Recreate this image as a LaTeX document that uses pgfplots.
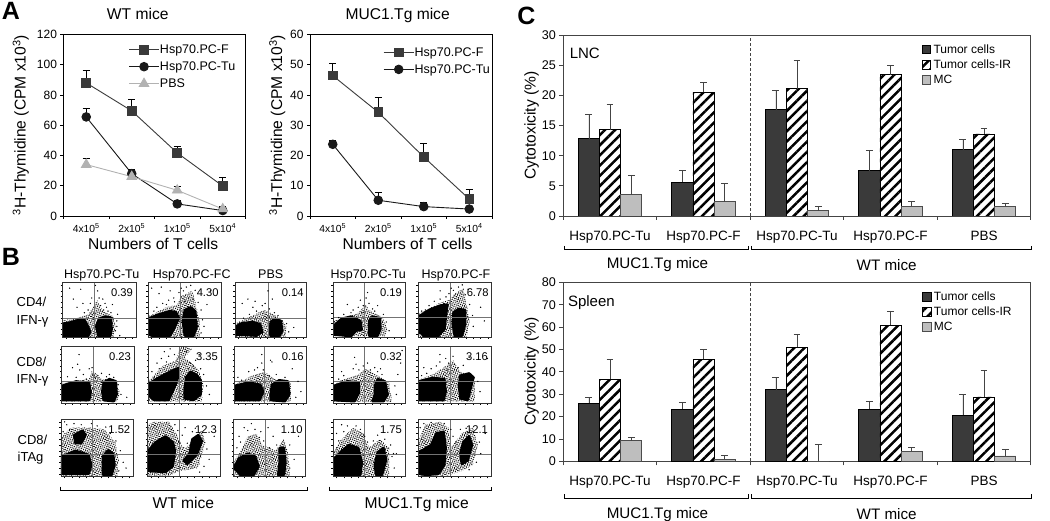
\documentclass[border=0pt]{standalone}
\usepackage{fontspec}
\setmainfont{Liberation Sans}
\usepackage{pgfplots}
\pgfplotsset{compat=1.18}
\usetikzlibrary{patterns.meta}

\newcommand{\fs}[1]{\fontsize{#1}{#1}\selectfont}
\definecolor{darkbar}{HTML}{3A3A3A}
\definecolor{greybar}{HTML}{BEBEBE}
\definecolor{framecol}{HTML}{444444}

% panel A
\pgfplotsset{
 lineaxis/.style={
  scale only axis,width=182pt,height=181.5pt,
  xmin=-.5,xmax=3.5,ymin=0,
  axis line style={black,line width=.8pt},
  tick align=outside,tick style={black,line width=.7pt},major tick length=3pt,
  xtick pos=bottom,ytick pos=left,
  xtick={-.5,.5,1.5,2.5,3.5},xticklabels={},
  extra x ticks={0,1,2,3},
  extra x tick labels={4x10\textsuperscript{5},2x10\textsuperscript{5},1x10\textsuperscript{5},5x10\textsuperscript{4}},
  extra x tick style={major tick length=0pt,xticklabel style={font=\fs{10.3},yshift=-4pt}},
  yticklabel style={font=\fs{12}},
  /pgf/number format/assume math mode=true,
  ylabel={\textsuperscript{3}H-Thymidine (CPM x10\textsuperscript{3})},
  xlabel={Numbers of T cells},
  legend style={draw=none,fill=none,font=\fs{12.5},anchor=north west,row sep=3.8pt,
   nodes={inner ysep=1.5pt,inner xsep=.5pt}},
  legend cell align=left,
  legend image code/.code={\draw[mark repeat=2,mark phase=2,##1] plot coordinates {(0pt,0pt)(15pt,0pt)(30pt,0pt)};},
  error bars/y dir=plus,error bars/y explicit,
  error bars/error bar style={black,line width=.8pt},
  error bars/error mark options={rotate=90,black,mark size=3.6pt,line width=.8pt},
 },
 fline/.style={color=darkbar,line width=.9pt,mark=square*,mark size=4.3pt,mark options={fill=darkbar,draw=darkbar}},
 tline/.style={color=black!90,line width=.9pt,mark=*,mark size=4.3pt,mark options={fill=black!90,draw=black!90}},
 pline/.style={color=black!30,line width=.9pt,mark=triangle*,mark size=5.5pt,mark options={fill=black!30,draw=black!30}},
% panel C
 baraxis/.style={
  scale only axis,width=467.5pt,
  ybar=0pt,bar width=21.2pt,
  xmin=-.5,xmax=4.5,ymin=0,
  axis line style={framecol,line width=.8pt},
  tick align=outside,tick style={framecol,line width=.7pt},major tick length=4pt,
  xtick pos=bottom,ytick pos=left,
  xtick={-.5,.5,1.5,2.5,3.5,4.5},xticklabels={},
  extra x ticks={0,1,2,3,4},
  extra x tick labels={Hsp70.PC-Tu,Hsp70.PC-F,Hsp70.PC-Tu,Hsp70.PC-F,PBS},
  extra x tick style={major tick length=0pt,xticklabel style={font=\fs{13.5},yshift=-11.5pt}},
  yticklabel style={font=\fs{12.6}},
  /pgf/number format/assume math mode=true,
  ylabel={Cytotoxicity (\%)},
  every axis y label/.style={at={(axis description cs:-.068,.5)},rotate=90,anchor=center,font=\fs{15.6}},
  legend style={draw=none,fill=none,font=\fs{12},anchor=north west,row sep=2.6pt,
   nodes={inner ysep=1.2pt,inner xsep=2.4pt}},
  legend cell align=left,
  legend image code/.code={\draw[##1,line width=.8pt] (0pt,-4pt) rectangle (8.5pt,4.5pt);},
  error bars/y dir=plus,error bars/y explicit,
  error bars/error bar style={framecol,line width=.7pt},
  error bars/error mark options={rotate=90,framecol,mark size=3.4pt,line width=.7pt},
 },
 tbar/.style={fill=darkbar,draw=black,line width=.7pt},
 ibar/.style={pattern={Lines[angle=45,distance=7.2pt,line width=2.5pt]},pattern color=black,draw=black,line width=.7pt},
 mbar/.style={fill=greybar,draw=black!70,line width=.8pt},
}

% panel B: one dot plot, local coordinates 0..100
\newcommand{\halo}[1]{%
 \addplot[draw=none,pattern={Dots[angle=17,distance=1.9pt,radius=.55pt]},pattern color=black] coordinates {#1} --cycle;
 \addplot[draw=none,pattern={Dots[angle=61,distance=2.4pt,radius=.55pt]},pattern color=black] coordinates {#1} --cycle;}
\newcommand{\blob}[1]{\addplot[draw=black,line width=2.4pt,line join=round,fill=black] coordinates {#1} --cycle;}
\newcommand{\specks}[1]{\addplot[only marks,mark=*,mark size=.42pt,black] coordinates {#1};}
\newcommand{\flowpanel}[8]{%
 \begin{axis}[at={(#1pt,-#2pt)},anchor=north west,scale only axis,width=#3pt,height=#4pt,
  xmin=0,xmax=100,ymin=0,ymax=100,axis on top,
  axis line style={black!80,line width=.6pt},
  tick align=outside,major tick length=1.6pt,tick style={black,line width=.4pt},
  xtick={5,15,...,95},ytick={5,15,...,95},xticklabels={},yticklabels={},
  xtick pos=bottom,ytick pos=left]
  #8
  \draw[black!55,line width=.9pt] (axis cs:#5,0)--(axis cs:#5,100);
  \draw[black!55,line width=.9pt] (axis cs:0,#6)--(axis cs:100,#6);
  \node[anchor=east,font=\fs{11.2},inner sep=0pt] at (axis cs:96,81) {#7};
 \end{axis}}

\begin{document}
\begin{tikzpicture}[x=1pt,y=-1pt]
\useasboundingbox (0,0) rectangle (1050,521);

%------ A
\node[font=\fs{25}\bfseries] at (11,11) {A};
\node[font=\fs{25}\bfseries] at (11,257) {B};
\node[font=\fs{25}\bfseries] at (526.5,16) {C};

\begin{axis}[lineaxis,at={(63.5pt,-34.5pt)},anchor=north west,ymax=120,ytick={0,20,...,120},
 title={WT mice},title style={at={(axis description cs:.408,1.047)},anchor=base,font=\fs{15.6}},
 every axis y label/.style={at={(axis description cs:-.235,.5)},rotate=90,anchor=center,font=\fs{15.6}},
 every axis x label/.style={at={(axis description cs:.493,-.187)},anchor=base,font=\fs{15.6}},
 legend style={at={(axis description cs:.34,.965)}}]
\addplot+[fline] coordinates {(0,88) +- (0,8.5) (1,69.5) +- (0,7.8) (2,41.7) +- (0,4.3) (3,19.8) +- (0,5.5)};
\addplot+[tline] coordinates {(0,65.5) +- (0,5.9) (1,28) +- (0,3) (2,8) +- (0,2.5) (3,3.6) +- (0,2.4)};
\addplot+[pline] coordinates {(0,34) +- (0,3.9) (1,26) +- (0,5) (2,17) +- (0,2.4) (3,4.6) +- (0,2)};
\legend{Hsp70.PC-F,Hsp70.PC-Tu,PBS}
\end{axis}

\begin{axis}[lineaxis,at={(310pt,-34.5pt)},anchor=north west,ymax=60,ytick={0,10,...,60},
 title={MUC1.Tg mice},title style={at={(axis description cs:.482,1.047)},anchor=base,font=\fs{15.6}},
 every axis y label/.style={at={(axis description cs:-.18,.5)},rotate=90,anchor=center,font=\fs{15.6}},
 every axis x label/.style={at={(axis description cs:.536,-.187)},anchor=base,font=\fs{15.6}},
 legend style={at={(axis description cs:.385,.95)}}]
\addplot+[fline] coordinates {(0,46.4) +- (0,4) (1,34.3) +- (0,4.8) (2,19.5) +- (0,4.5) (3,5.6) +- (0,3.3)};
\addplot+[tline] coordinates {(0,23.7) +- (0,1.4) (1,5.2) +- (0,2.5) (2,3.1) +- (0,1.3) (3,2.3) +- (0,.6)};
\legend{Hsp70.PC-F,Hsp70.PC-Tu}
\end{axis}

%------ B
\foreach \xx/\txt in {101.7/Hsp70.PC-Tu,191.7/Hsp70.PC-FC,270.7/PBS,368.3/Hsp70.PC-Tu,456/Hsp70.PC-F}
 \node[font=\fs{12.5},anchor=base] at (\xx,279) {\txt};
\node[font=\fs{13},anchor=west,inner sep=0pt] at (16.5,302.3) {CD4/};
\node[font=\fs{13},anchor=west,inner sep=0pt] at (16.5,321) {IFN-γ};
\node[font=\fs{13},anchor=west,inner sep=0pt] at (16.5,361.7) {CD8/};
\node[font=\fs{13},anchor=west,inner sep=0pt] at (16.5,380) {IFN-γ};
\node[font=\fs{13},anchor=west,inner sep=0pt] at (17.5,440) {CD8/};
\node[font=\fs{13},anchor=west,inner sep=0pt] at (17.5,458.3) {iTAg};

% row 1
\flowpanel{62.3}{282.7}{73.7}{54.6}{44}{35}{0.39}{
 \halo{(0,0)(70,0)(72,20)(70,38)(55,48)(47,68)(42,55)(35,42)(20,36)(0,30)}
 \blob{(1,2)(35,2)(38,10)(34,22)(30,32)(20,31)(10,27)(1,25)}
 \blob{(49,2)(65,2)(67,15)(66,36)(58,38)(50,34)(46,20)}
 \specks{(20,55)(28,62)(15,70)(50,72)(55,70)(58,62)(60,55)(62,48)(68,60)(35,50)(40,72)(48,85)(45,95)(25,88)(10,90)(75,42)(74,30)(72,12)(74,20)(78,3)(30,45)(38,62)(52,58)(56,50)(66,45)}
}
\flowpanel{148}{282.7}{73.7}{54.6}{44}{35}{4.30}{
 \halo{(0,0)(70,0)(70,30)(65,60)(60,85)(45,75)(40,60)(25,55)(0,38)}
 \blob{(2,5)(10,0)(30,3)(36,18)(42,35)(38,46)(30,48)(15,42)(2,35)}
 \blob{(50,3)(62,3)(66,20)(64,48)(58,55)(50,50)(47,30)}
 \specks{(8,48)(12,55)(20,62)(28,68)(35,72)(15,80)(30,85)(42,82)(48,85)(52,92)(58,95)(55,72)(62,70)(68,64)(72,50)(74,32)(76,20)(72,8)(25,60)(36,65)(50,66)(45,90)(64,86)(80,60)(85,85)(5,90)(18,92)}
}
\flowpanel{235}{282.7}{71.7}{54.6}{46}{34}{0.14}{
 \halo{(0,0)(70,0)(72,20)(62,36)(50,45)(40,50)(25,40)(0,25)}
 \blob{(1,5)(30,3)(38,10)(35,24)(25,28)(10,26)(1,20)}
 \blob{(50,2)(62,3)(66,12)(64,30)(55,34)(50,28)(48,12)}
 \specks{(10,62)(18,70)(25,55)(30,48)(38,58)(42,62)(48,52)(52,70)(55,45)(60,40)(66,30)(72,25)(75,10)(12,35)(20,42)(46,85)(28,66)(82,18)}
}
\flowpanel{333}{282.7}{72}{54.6}{44}{37}{0.19}{
 \halo{(0,2)(72,2)(76,15)(68,38)(50,50)(46,60)(35,45)(0,30)}
 \blob{(2,5)(25,2)(32,12)(40,14)(38,30)(25,38)(12,34)(2,22)}
 \blob{(50,3)(62,3)(66,15)(65,35)(55,38)(50,30)(50,15)}
 \specks{(20,60)(28,50)(35,55)(38,68)(42,58)(46,72)(40,45)(50,62)(55,52)(58,48)(48,82)(62,58)(70,42)(74,28)(78,12)(15,42)(25,45)(8,36)}
}
\flowpanel{418}{282.7}{73.7}{54.6}{44}{37}{6.78}{
 \halo{(0,0)(66,0)(70,30)(66,60)(62,90)(50,80)(42,68)(28,62)(0,42)}
 \blob{(1,12)(8,2)(28,3)(36,15)(38,40)(40,60)(30,58)(15,50)(1,38)}
 \blob{(50,2)(60,3)(64,25)(64,50)(55,52)(48,45)(47,25)}
 \specks{(10,50)(15,58)(22,66)(30,70)(38,74)(42,80)(48,86)(55,92)(60,96)(64,78)(70,60)(74,40)(75,20)(55,70)(45,90)(30,85)(35,62)(68,88)(85,55)(90,30)(5,48)}
}
% row 2
\flowpanel{61.7}{346}{72.3}{57}{44}{37}{0.23}{
 \halo{(0,3)(78,3)(80,20)(72,42)(55,42)(42,58)(38,42)(0,35)}
 \blob{(0,5)(38,5)(40,18)(38,35)(20,38)(0,30)}
 \blob{(58,5)(72,3)(76,15)(75,38)(66,42)(58,36)(56,20)}
 \specks{(8,46)(15,62)(22,68)(25,58)(20,45)(30,50)(34,42)(38,60)(42,62)(46,45)(50,48)(55,52)(62,46)(66,50)(72,45)(78,32)(82,15)(24,85)(90,10)}
}
\flowpanel{148.3}{346}{72.7}{57}{43}{37}{3.35}{
 \halo{(0,3)(74,3)(76,35)(68,60)(50,80)(60,95)(45,100)(38,75)(20,65)(0,38)}
 \blob{(2,12)(8,5)(28,5)(34,22)(40,40)(42,62)(30,55)(15,45)(2,35)}
 \blob{(50,8)(62,5)(72,15)(72,40)(66,50)(58,55)(52,45)(50,25)}
 \specks{(8,45)(15,60)(12,70)(18,78)(25,72)(28,82)(22,90)(30,95)(36,85)(5,55)(65,75)(72,60)(76,50)(80,30)(84,15)(70,85)(58,70)(62,65)(55,60)(52,90)}
}
\flowpanel{234.3}{346}{72.4}{57}{42}{37}{0.16}{
 \halo{(0,3)(78,3)(78,35)(55,42)(42,55)(28,50)(0,32)}
 \blob{(0,5)(35,5)(40,20)(36,32)(20,36)(0,30)}
 \blob{(50,5)(70,3)(76,15)(74,38)(62,40)(52,32)(50,15)}
 \specks{(5,45)(10,40)(20,55)(28,58)(32,62)(38,70)(40,58)(38,85)(50,75)(52,72)(58,50)(48,48)(70,45)(80,60)(88,38)(92,20)(85,10)}
}
\flowpanel{333}{346}{72}{57}{44}{37}{0.32}{
 \halo{(0,2)(82,2)(78,35)(60,50)(45,60)(35,50)(15,42)(0,32)}
 \blob{(1,5)(30,3)(36,18)(36,36)(20,38)(1,30)}
 \blob{(55,3)(70,3)(76,15)(72,38)(62,42)(58,30)(58,15)}
 \specks{(8,42)(15,48)(28,60)(32,68)(36,58)(42,65)(48,70)(52,58)(58,62)(62,55)(66,60)(68,50)(30,80)(86,30)(90,50)(88,15)(96,92)(94,70)(12,55)}
}
\flowpanel{418}{346}{73}{57}{45}{37}{3.16}{
 \halo{(0,3)(78,3)(78,45)(58,55)(48,75)(35,62)(20,50)(0,40)}
 \blob{(1,5)(35,5)(38,20)(36,42)(20,44)(1,38)}
 \blob{(58,8)(68,5)(72,25)(76,45)(70,52)(58,48)(56,32)}
 \specks{(5,48)(12,52)(18,60)(25,65)(30,72)(38,78)(42,70)(48,82)(40,58)(30,85)(50,68)(55,62)(82,38)(85,20)(95,78)(70,80)(62,66)(8,62)}
}
% row 3
\flowpanel{61}{419}{72.3}{57.7}{44}{38}{1.52}{
 \halo{(0,2)(78,2)(80,30)(75,60)(60,82)(40,85)(15,85)(0,70)}
 \blob{(1,5)(38,5)(42,20)(38,38)(20,45)(1,35)}
 \blob{(58,3)(70,3)(74,20)(72,40)(65,46)(58,35)}
 \blob{(18,72)(30,80)(34,72)(28,58)(20,58)}
 \specks{(3,78)(8,90)(12,82)(18,92)(28,90)(42,92)(50,88)(62,86)(68,75)(76,62)(82,45)(86,25)(80,10)(90,15)(5,95)}
}
\flowpanel{147.3}{419}{72.7}{57.7}{44}{38}{12.3}{
 \halo{(0,2)(30,2)(45,10)(70,15)(80,60)(75,80)(60,60)(50,45)(42,70)(30,95)(10,95)(0,90)}
 \blob{(1,10)(25,8)(35,18)(38,45)(35,60)(25,70)(12,60)(1,45)}
 \blob{(55,22)(68,38)(75,62)(70,72)(62,65)(58,40)(50,28)}
 \specks{(45,58)(48,72)(50,50)(55,58)(62,78)(66,84)(52,85)(42,80)(38,90)(82,48)(85,30)(78,18)(72,8)(92,70)}
}
\flowpanel{233.3}{419}{72.4}{57.7}{44}{38}{1.10}{
 \halo{(0,2)(78,2)(76,40)(70,65)(58,45)(40,55)(32,75)(20,70)(10,45)(0,25)}
 \blob{(1,15)(10,3)(28,3)(35,18)(30,35)(20,40)(8,32)}
 \blob{(62,3)(70,3)(72,25)(70,50)(64,50)(64,25)}
 \specks{(5,50)(8,70)(15,85)(25,92)(20,80)(30,82)(36,68)(42,62)(48,85)(55,70)(60,55)(78,55)(84,30)(90,70)(50,50)(78,15)(10,60)(38,78)}
}
\flowpanel{333}{419}{72}{57.7}{43.5}{39}{1.75}{
 \halo{(0,2)(78,2)(78,50)(65,65)(50,50)(42,75)(28,85)(10,62)(0,40)}
 \blob{(1,3)(38,3)(40,25)(35,50)(22,55)(10,42)(1,30)}
 \blob{(60,3)(68,3)(74,30)(70,50)(62,42)(58,20)}
 \specks{(5,50)(8,62)(5,75)(15,78)(20,88)(32,88)(38,82)(44,70)(48,60)(56,62)(62,72)(72,65)(80,55)(82,35)(84,40)(88,40)(85,15)(12,90)}
}
\flowpanel{418}{419}{73}{57.7}{44}{39}{12.1}{
 \halo{(0,2)(40,2)(60,10)(75,20)(82,55)(75,85)(60,75)(45,50)(42,85)(30,95)(10,90)(0,60)}
 \blob{(1,5)(12,3)(28,5)(36,20)(38,50)(35,78)(25,75)(18,55)(1,42)}
 \blob{(60,22)(68,28)(74,55)(70,70)(62,60)(58,40)}
 \specks{(5,65)(3,85)(8,92)(18,94)(36,92)(45,82)(48,70)(52,60)(58,82)(66,84)(84,60)(86,40)(80,25)(70,12)(92,75)}
}
% brackets
\draw[black,line width=.8pt] (60,486.7)--(60,490.7)--(307.3,490.7)--(307.3,486.7);
\draw[black,line width=.8pt] (329.3,486.7)--(329.3,490.7)--(491,490.7)--(491,486.7);
\node[font=\fs{15.6},anchor=base] at (183.3,508.3) {WT mice};
\node[font=\fs{15.6},anchor=base] at (416.7,508.3) {MUC1.Tg mice};

%------ C, LNC
\begin{axis}[baraxis,at={(563.3pt,-35pt)},anchor=north west,height=181pt,ymax=30,ytick={0,5,...,30},
 legend style={at={(axis description cs:.76,.965)}}]
\addplot[tbar,error bars/.cd,y dir=plus,y explicit] coordinates {(0,12.8) +- (0,4.1) (1,5.6) +- (0,2) (2,17.6) +- (0,3.2) (3,7.5) +- (0,3.3) (4,11) +- (0,1.7)};
\addplot[ibar,error bars/.cd,y dir=plus,y explicit] coordinates {(0,14.3) +- (0,4.15) (1,20.5) +- (0,1.65) (2,21.1) +- (0,4.65) (3,23.4) +- (0,1.5) (4,13.6) +- (0,.9)};
\addplot[mbar,error bars/.cd,y dir=plus,y explicit] coordinates {(0,3.5) +- (0,3.3) (1,2.4) +- (0,3) (2,.9) +- (0,.65) (3,1.6) +- (0,.85) (4,1.6) +- (0,.5)};
\draw[framecol,dashed,line width=1pt,dash pattern=on 3pt off 2pt] (axis cs:1.5,0)--(axis cs:1.5,30);
\node[font=\fs{15},anchor=center] at (axis cs:-.27,26.9) {LNC};
\legend{Tumor cells,Tumor cells-IR,MC}
\end{axis}
\draw[black,line width=.8pt] (564,246)--(564,249.3)--(748.7,249.3)--(748.7,246);
\draw[black,line width=.8pt] (751.7,246)--(751.7,249.3)--(1031.7,249.3)--(1031.7,246);
\node[font=\fs{15.2},anchor=base] at (657.5,268.5) {MUC1.Tg mice};
\node[font=\fs{15.2},anchor=base] at (886.7,270.5) {WT mice};

%------ C, spleen
\begin{axis}[baraxis,at={(563.3pt,-282.3pt)},anchor=north west,height=179pt,ymax=80,ytick={0,10,...,80},
 legend style={at={(axis description cs:.761,.965)}}]
\addplot[tbar,error bars/.cd,y dir=plus,y explicit] coordinates {(0,26) +- (0,2.4) (1,23.3) +- (0,3.2) (2,32) +- (0,5.5) (3,23.3) +- (0,3.7) (4,20.5) +- (0,9.2)};
\addplot[ibar,error bars/.cd,y dir=plus,y explicit] coordinates {(0,36.7) +- (0,8.9) (1,45.5) +- (0,4.5) (2,51) +- (0,5.6) (3,60.7) +- (0,6.5) (4,28.8) +- (0,12)};
\addplot[mbar,error bars/.cd,y dir=plus,y explicit] coordinates {(0,9.2) +- (0,1.5) (1,.9) +- (0,1.9) (2,0) +- (0,7.4) (3,4.6) +- (0,1.5) (4,2.4) +- (0,3)};
\draw[framecol,dashed,line width=1pt,dash pattern=on 3pt off 2pt] (axis cs:1.5,0)--(axis cs:1.5,80);
\node[font=\fs{15},anchor=center] at (axis cs:-.2,70.8) {Spleen};
\legend{Tumor cells,Tumor cells-IR,MC}
\end{axis}
\draw[black,line width=.8pt] (564,494.3)--(564,498.3)--(748.7,498.3)--(748.7,494.3);
\draw[black,line width=.8pt] (751.7,494.3)--(751.7,498.3)--(1031.7,498.3)--(1031.7,494.3);
\node[font=\fs{15.2},anchor=base] at (657.5,518) {MUC1.Tg mice};
\node[font=\fs{15.2},anchor=base] at (886.7,519.3) {WT mice};
\end{tikzpicture}
\end{document}
